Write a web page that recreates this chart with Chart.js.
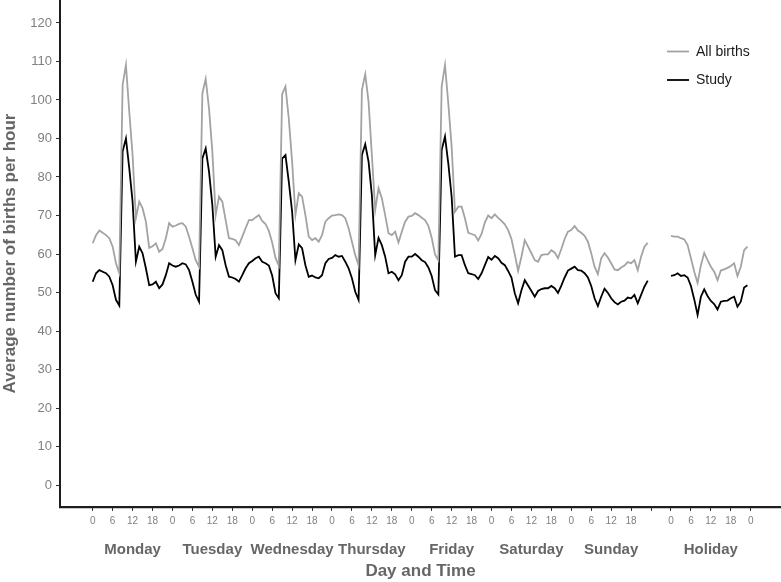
<!DOCTYPE html>
<html><head><meta charset="utf-8">
<script src="https://cdn.jsdelivr.net/npm/chart.js@4.4.1/dist/chart.umd.min.js"></script>
<style>html,body{margin:0;padding:0;background:#fff;overflow:hidden}canvas{display:block}</style>
</head><body>
<canvas id="c" width="781" height="582"></canvas>
<script>
// ---- data ----
const days = ['Monday','Tuesday','Wednesday','Thursday','Friday','Saturday','Sunday','Holiday'];
const hourTickLabels = ['0','6','12','18'];
const yTickValues = [0,10,20,30,40,50,60,70,80,90,100,110,120];
const seriesNames = ['All births','Study'];

const allMon = [62.8,64.9,66.1,65.5,64.9,64.1,61.9,57.6,55.0,103.9,109.1,97.0,85.7,69.3,73.6,71.9,68.4,61.6,62.0,62.8,60.6,61.3,64.1,68.0];
const allTue = [67.1,67.4,67.8,68.0,67.1,64.5,61.5,58.4,56.7,101.7,105.5,97.8,86.6,70.1,74.9,73.6,68.8,64.1,63.9,63.6,62.3,64.5,66.7,68.8];
const allWed = [68.8,69.5,70.1,68.6,67.8,66.0,63.0,59.0,57.0,101.5,103.5,95.2,84.0,70.1,75.8,74.9,70.1,64.5,63.6,64.1,63.2,64.9,68.4,69.3];
const allThu = [70.0,70.1,70.3,70.1,69.3,66.7,63.2,59.7,57.1,102.6,106.7,99.6,85.7,71.4,77.1,74.5,70.1,65.4,64.9,65.8,63.0,65.8,68.4,69.7];
const allFri = [69.9,70.6,70.1,69.4,68.8,67.3,64.2,59.9,58.4,103.5,109.1,99.1,87.9,71.0,72.3,72.3,69.3,65.5,65.2,64.9,63.5,65.2,68.2,70.0];
const allSat = [69.3,70.3,69.4,68.6,67.7,66.2,63.9,59.9,55.6,59.3,63.6,61.9,60.2,58.4,58.0,59.7,59.9,59.9,61.0,60.4,58.9,61.3,63.9,65.8];
const allSun = [66.2,67.3,66.1,65.5,64.7,63.2,60.2,56.7,54.8,58.9,60.2,59.1,57.6,56.0,55.8,56.5,57.0,57.9,57.6,58.4,55.8,59.3,61.9,62.9];
const allHol = [64.7,64.5,64.5,64.1,63.8,62.3,58.9,55.4,52.5,57.1,60.3,58.4,56.7,55.4,53.2,55.7,56.0,56.4,56.9,57.6,54.3,56.7,61.0,61.9];

const studyMon = [52.8,55.0,55.8,55.4,55.0,54.1,51.9,48.1,46.6,86.6,90.0,82.3,73.6,58.0,61.9,60.2,56.3,51.9,52.1,52.8,51.1,52.1,54.5,57.6];
const studyTue = [57.0,56.7,57.0,57.6,57.3,55.8,52.8,49.4,47.6,84.8,87.4,81.4,72.7,59.3,62.3,61.0,57.1,54.1,53.9,53.5,52.8,54.5,56.3,57.6];
const studyWed = [58.2,58.9,59.3,58.0,57.6,57.0,54.4,49.8,48.5,84.8,85.7,78.8,71.0,58.4,62.5,61.5,57.1,54.1,54.4,53.9,53.7,54.5,57.6,58.7];
const studyThu = [59.0,59.7,59.3,59.5,58.0,56.3,53.7,50.2,48.1,85.7,88.5,84.0,75.3,59.7,64.2,62.3,59.3,55.0,55.4,54.7,53.2,54.5,58.0,59.3];
const studyFri = [59.3,60.0,59.3,58.4,57.9,56.5,54.3,50.6,49.5,87.0,90.5,83.5,74.9,59.3,59.7,59.7,57.1,55.0,54.8,54.5,53.5,55.0,57.1,59.2];
const studySat = [58.5,59.5,58.9,57.7,57.1,55.6,53.9,49.8,47.2,50.6,53.2,51.8,50.4,48.9,50.4,50.9,51.1,51.1,51.7,51.1,49.9,51.8,53.9,55.7];
const studySun = [56.2,56.7,55.8,55.7,55.0,53.9,51.7,48.5,46.5,48.9,51.0,49.9,48.5,47.5,46.9,47.6,47.9,48.7,48.5,49.4,47.2,49.4,51.5,53.1];
const studyHol = [54.3,54.5,55.0,54.3,54.5,53.9,51.7,48.2,44.2,48.9,50.8,49.1,47.8,47.0,45.6,47.6,47.8,47.9,48.5,48.9,46.3,47.6,51.3,51.9];

// ---- build ----
const HOURS = 24, GAP = 6;
const dayStart = days.map((d, i) => i < 7 ? i * HOURS : 7 * HOURS + GAP);
function buildSeries(arrs) {
  const pts = [];
  arrs.forEach((arr, i) => {
    if (i === 7) pts.push({x: 7 * HOURS + GAP / 2, y: null});
    arr.forEach((v, h) => pts.push({x: dayStart[i] + h, y: v}));
  });
  return pts;
}
const allData = buildSeries([allMon,allTue,allWed,allThu,allFri,allSat,allSun,allHol]);
const studyData = buildSeries([studyMon,studyTue,studyWed,studyThu,studyFri,studySat,studySun,studyHol]);

const hourTicks = [], hourTickText = [];
days.forEach((d, i) => {
  hourTickLabels.forEach((l, k) => { hourTicks.push(dayStart[i] + k * 6); hourTickText.push(l); });
  if (i === 6) { hourTicks.push(7 * HOURS); hourTickText.push(''); }
  if (i === 7) { hourTicks.push(dayStart[i] + HOURS); hourTickText.push('0'); }
});
const dayCenters = dayStart.map(s => s + HOURS / 2);

const XMIN = -9.84, XMAX = 207.1, YMIN = -5.71, YMAX = 125.97;
const FONT = "'Liberation Sans', Arial, sans-serif";
Chart.defaults.font.family = FONT;

const axisLinePlugin = {
  id: 'axisLines',
  afterDraw(chart) {
    const ctx = chart.ctx, ca = chart.chartArea;
    const xl = Math.round(ca.left), yb = Math.round(ca.bottom) + 0.5;
    ctx.save();
    ctx.fillStyle = '#1e1e1e';
    ctx.fillRect(xl - 1, 0, 2, Math.round(ca.bottom) + 1);
    ctx.strokeStyle = '#1e1e1e';
    ctx.lineWidth = 1.5;
    ctx.beginPath();
    ctx.moveTo(xl - 1, yb);
    ctx.lineTo(chart.width, yb);
    ctx.stroke();
    ctx.restore();
  }
};

const legendPlugin = {
  id: 'insideLegend',
  afterDraw(chart) {
    const ctx = chart.ctx;
    ctx.save();
    chart.data.datasets.forEach((ds, i) => {
      const y = 51.5 + i * 28.5;
      ctx.strokeStyle = ds.borderColor;
      ctx.lineWidth = ds.borderWidth;
      ctx.beginPath(); ctx.moveTo(667, y); ctx.lineTo(689, y); ctx.stroke();
      ctx.fillStyle = '#1a1a1a';
      ctx.font = '14px ' + FONT;
      ctx.textBaseline = 'middle';
      ctx.textAlign = 'left';
      ctx.fillText(ds.label, 696, y + 0.5);
    });
    ctx.restore();
  }
};

new Chart(document.getElementById('c'), {
  type: 'line',
  data: {
    datasets: [
      {label: seriesNames[0], data: allData, borderColor: '#a3a3a3', borderWidth: 1.8, pointRadius: 0, tension: 0, spanGaps: false},
      {label: seriesNames[1], data: studyData, borderColor: '#000000', borderWidth: 1.8, pointRadius: 0, tension: 0, spanGaps: false}
    ]
  },
  options: {
    responsive: false, animation: false, devicePixelRatio: 1,
    layout: {padding: 0},
    plugins: {legend: {display: false}, tooltip: {enabled: false}},
    scales: {
      x: {
        type: 'linear', min: XMIN, max: XMAX, position: 'bottom', weight: 0,
        grid: {display: true, drawOnChartArea: false, drawTicks: true, tickLength: 4, tickColor: '#333', tickWidth: 1},
        border: {display: true, color: '#222', width: 1.3},
        ticks: {autoSkip: false, maxRotation: 0, font: {size: 10}, color: '#808080', padding: 4,
          callback: (v, i) => hourTickText[i]},
        afterBuildTicks: s => { s.ticks = hourTicks.map(v => ({value: v})); },
        afterFit: s => { s.height = 24; s.paddingLeft = 0; s.paddingRight = 0; }
      },
      x2: {
        type: 'linear', min: XMIN, max: XMAX, position: 'bottom', weight: 1,
        grid: {display: false, drawTicks: false},
        border: {display: false},
        ticks: {autoSkip: false, maxRotation: 0, font: {size: 15, weight: 'bold'}, color: '#666', padding: 10,
          callback: (v, i) => days[i]},
        afterBuildTicks: s => { s.ticks = dayCenters.map(v => ({value: v})); },
        title: {display: true, text: 'Day and Time', font: {size: 17, weight: 'bold'}, color: '#666', padding: {top: 4, bottom: 0}},
        afterFit: s => { s.height = 51; s.paddingLeft = 0; s.paddingRight = 0; }
      },
      y: {
        type: 'linear', min: YMIN, max: YMAX,
        grid: {display: true, drawOnChartArea: false, drawTicks: true, tickLength: 4, tickColor: '#333', tickWidth: 1},
        border: {display: true, color: '#222', width: 1.3},
        ticks: {font: {size: 13}, color: '#808080', padding: 4, callback: v => String(v)},
        afterBuildTicks: s => { s.ticks = yTickValues.map(v => ({value: v})); },
        title: {display: true, text: 'Average number of births per hour', font: {size: 17, weight: 'bold'}, color: '#666', padding: {top: 0, bottom: 2}},
        afterFit: s => { s.width = 60; s.paddingTop = 0; s.paddingBottom = 0; }
      }
    }
  },
  plugins: [axisLinePlugin, legendPlugin]
});
</script>
</body></html>
